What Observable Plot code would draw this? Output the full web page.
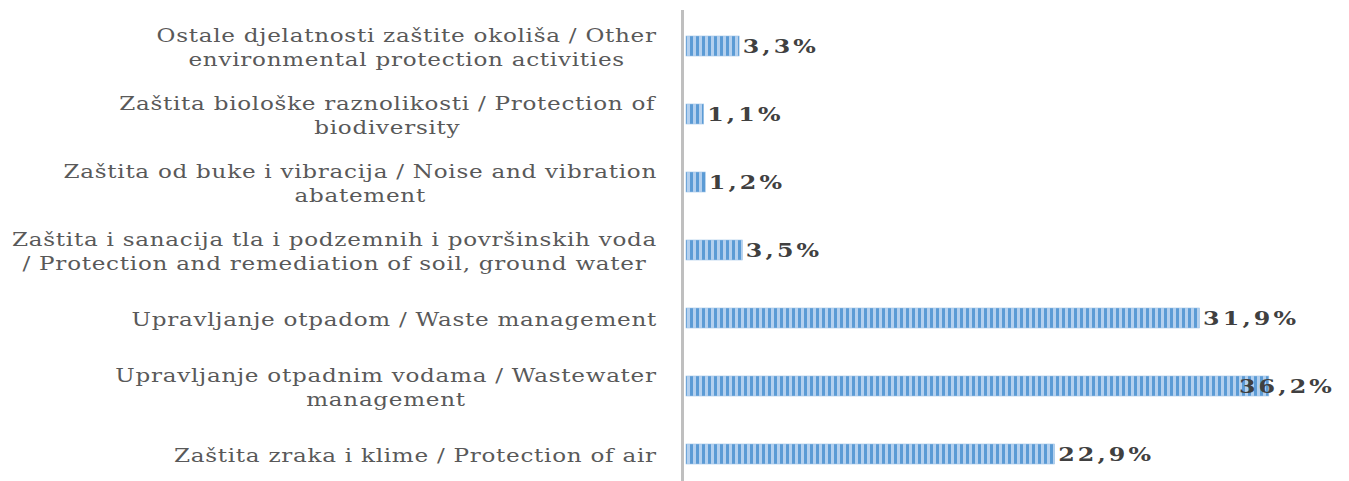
<!DOCTYPE html>
<html>
<head>
<meta charset="utf-8">
<script src="https://cdn.jsdelivr.net/npm/d3@7"></script>
<script src="https://cdn.jsdelivr.net/npm/@observablehq/plot@0.6"></script>
<style>
  html, body { margin: 0; padding: 0; background: #fff; overflow: hidden; }
  #chart svg { display: block; }
</style>
</head>
<body>
<div id="chart"></div>
<script>
const categories = [
  "Ostale djelatnosti zaštite okoliša / Other\nenvironmental protection activities",
  "Zaštita biološke raznolikosti / Protection of\nbiodiversity",
  "Zaštita od buke i vibracija / Noise and vibration\nabatement",
  "Zaštita i sanacija tla i podzemnih i površinskih voda\n/ Protection and remediation of soil, ground water",
  "Upravljanje otpadom / Waste management",
  "Upravljanje otpadnim vodama / Wastewater\nmanagement",
  "Zaštita zraka i klime / Protection of air"
];
const values = [3.3, 1.1, 1.2, 3.5, 31.9, 36.2, 22.9];

const data = categories.map((c, i) => ({category: c, value: values[i]}));
const fmt = v => v.toFixed(1).replace(".", ",") + "%";

const serif = "'DejaVu Serif', 'Liberation Serif', serif";
const W = 1349;

const plot = Plot.plot({
  width: W,
  height: 481,
  marginLeft: 686,
  marginRight: 19,
  marginTop: 10,
  marginBottom: 0,
  x: {domain: [0, 40], axis: null},
  y: {domain: categories, axis: null, paddingInner: 0.71, paddingOuter: 0.293, align: 0.6},
  marks: [
    Plot.barX(data, {x: "value", y: "category", fill: "url(#stripes)", stroke: "#9dc3e6", strokeWidth: 0.6}),
    Plot.ruleX([0], {stroke: "#bfbfbf", strokeWidth: 3, dx: -4}),
    Plot.text(data, {
      x: "value", y: "category", text: d => fmt(d.value),
      textAnchor: "start", dx: 3, fontWeight: "bold", fontSize: 19,
      fill: "#404040", fontFamily: serif, className: "vlabel"
    }),
    Plot.text(data, {
      x: 0, y: "category", text: "category",
      textAnchor: "middle", dx: -29, lineHeight: 1.27, fontSize: 19,
      fill: "#595959", fontFamily: serif, className: "clabel"
    })
  ]
});

// stripe pattern
const defs = d3.select(plot).insert("defs", ":first-child");
const pat = defs.append("pattern")
  .attr("id", "stripes").attr("patternUnits", "userSpaceOnUse")
  .attr("width", 6).attr("height", 40);
pat.append("rect").attr("x", 0).attr("y", 0).attr("width", 6).attr("height", 40).attr("fill", "#b4d0ee");
pat.append("rect").attr("x", 0).attr("y", 0).attr("width", 3).attr("height", 40).attr("fill", "#5b9bd5");

document.getElementById("chart").appendChild(plot);

const svgLeft = plot.getBoundingClientRect().left;

// value labels: stretched, kept inside the right edge
d3.select(plot).selectAll(".vlabel text").each(function() {
  this.style.letterSpacing = "2.5px";
  const t0 = this.getAttribute("transform") || "";
  this.setAttribute("transform", t0 + " scale(1.25,1)");
  const r = this.getBoundingClientRect();
  const right = r.right - svgLeft;
  const limit = W - 14;
  if (right > limit) {
    this.setAttribute("transform", `translate(${limit - right},0) ` + this.getAttribute("transform"));
  }
});

// category labels: stretched, block right-aligned, lines centered within block
const rightEdge = 657;
d3.select(plot).selectAll(".clabel text").each(function() {
  this.style.letterSpacing = "0.6px";
  const t0 = this.getAttribute("transform") || "";
  this.setAttribute("transform", t0 + " scale(1.215,1)");
  const r = this.getBoundingClientRect();
  const delta = rightEdge - (r.right - svgLeft);
  this.setAttribute("transform", `translate(${delta},0) ` + this.getAttribute("transform"));
});
</script>
</body>
</html>
